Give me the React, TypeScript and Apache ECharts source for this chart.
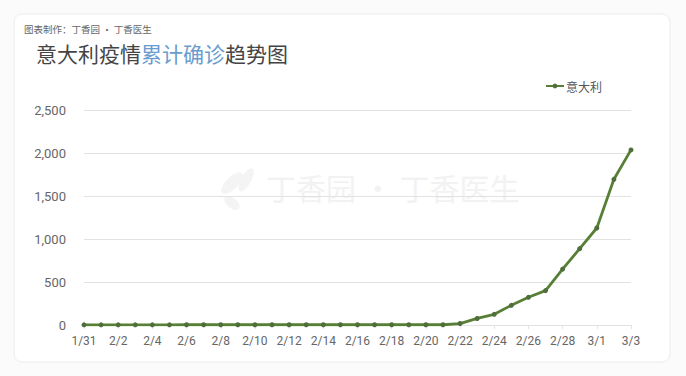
import React, { useEffect, useRef } from "react";
import * as echarts from "echarts";

const categories = [
  "1/31", "2/1", "2/2", "2/3", "2/4", "2/5", "2/6", "2/7", "2/8", "2/9", "2/10",
  "2/11", "2/12", "2/13", "2/14", "2/15", "2/16", "2/17", "2/18", "2/19", "2/20",
  "2/21", "2/22", "2/23", "2/24", "2/25", "2/26", "2/27", "2/28", "2/29", "3/1", "3/2", "3/3",
];
const italyValues = [
  2, 2, 2, 2, 2, 2, 3, 3, 3, 3, 3,
  3, 3, 3, 3, 3, 3, 3, 3, 3, 3,
  3, 17, 76, 124, 229, 322, 400, 650, 888, 1128, 1694, 2036,
];
const seriesName = "意大利";
const titleParts = ["意大利疫情", "累计确诊", "趋势图"];
const subtitleText = "图表制作：丁香园 · 丁香医生";
const watermarkText = "丁香园 · 丁香医生";

export default function App() {
  const ref = useRef<HTMLDivElement>(null);
  useEffect(() => {
    if (!ref.current) return;
    const chart = echarts.init(ref.current, null, { renderer: "svg" });
    chart.setOption({
      animation: false,
      backgroundColor: "#fbfbfb",
      textStyle: { fontFamily: "Noto Sans CJK SC, Noto Sans, sans-serif" },
      graphic: [
        {
          type: "rect",
          z: -10,
          shape: { x: 14, y: 14, width: 656, height: 348, r: 8 },
          style: { fill: "#ffffff", stroke: "#ececec", lineWidth: 1 },
        },
        {
          type: "text",
          left: 24,
          top: 24,
          style: { text: subtitleText, fill: "#666", font: "9.5px 'Noto Sans CJK SC'" },
        },
        {
          type: "text",
          left: 36,
          top: 42,
          style: {
            text: `{a|${titleParts[0]}}{b|${titleParts[1]}}{a|${titleParts[2]}}`,
            rich: {
              a: { fill: "#444", fontSize: 21, fontFamily: "Noto Sans CJK SC" },
              b: { fill: "#6a9ccf", fontSize: 21, fontFamily: "Noto Sans CJK SC" },
            },
          },
        },
        {
          type: "ellipse",
          z: -5,
          shape: { cx: 232, cy: 183, rx: 6, ry: 14 },
          rotation: -0.8,
          originX: 232,
          originY: 183,
          style: { fill: "#f4f4f4" },
        },
        {
          type: "ellipse",
          z: -5,
          shape: { cx: 246, cy: 180, rx: 5, ry: 13 },
          rotation: -0.5,
          originX: 246,
          originY: 180,
          style: { fill: "#f4f4f4" },
        },
        {
          type: "ellipse",
          z: -5,
          shape: { cx: 232, cy: 203, rx: 5, ry: 9 },
          rotation: 0.9,
          originX: 232,
          originY: 203,
          style: { fill: "#f4f4f4" },
        },
        {
          type: "text",
          z: -5,
          left: 266,
          top: 172,
          style: { text: watermarkText, fill: "#f2f2f2", font: "30px 'Noto Sans CJK SC'" },
        },
      ],
      legend: {
        data: [seriesName],
        right: 79,
        top: 75,
        itemWidth: 18,
        itemHeight: 6,
        itemGap: 4,
        textStyle: { color: "#555", fontSize: 12, padding: [0, 0, 0, -3], fontFamily: "Noto Sans CJK SC" },
      },
      grid: { left: 84, right: 55, top: 110, bottom: 51, containLabel: false },
      xAxis: {
        type: "category",
        data: categories,
        boundaryGap: false,
        axisLine: { show: true, lineStyle: { color: "#e2e2e2" } },
        axisTick: { show: true, interval: 1, length: 4, lineStyle: { color: "#e2e2e2" } },
        axisLabel: { interval: 1, color: "#666", fontSize: 12, margin: 10, fontFamily: "Roboto, sans-serif" },
      },
      yAxis: {
        type: "value",
        min: 0,
        max: 2500,
        interval: 500,
        axisLine: { show: false },
        axisTick: { show: false },
        splitLine: { lineStyle: { color: "#e2e2e2" } },
        axisLabel: {
          color: "#666",
          fontSize: 13,
          margin: 18,
          fontFamily: "Roboto, sans-serif",
          formatter: (v: number) => v.toLocaleString("en-US"),
        },
      },
      series: [
        {
          name: seriesName,
          type: "line",
          data: italyValues,
          symbol: "circle",
          symbolSize: 5,
          showSymbol: true,
          lineStyle: { color: "#587f36", width: 2.8 },
          itemStyle: { color: "#4e6e3a" },
        },
      ],
    });
    return () => chart.dispose();
  }, []);
  return (
    <div
      ref={ref}
      style={{ position: "fixed", left: 0, top: 0, width: 686, height: 376 }}
    />
  );
}
